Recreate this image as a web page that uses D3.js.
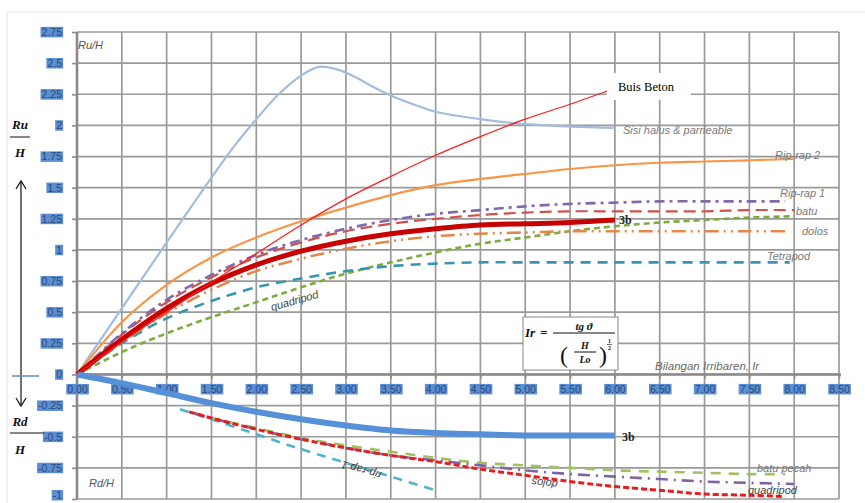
<!DOCTYPE html>
<html>
<head>
<meta charset="utf-8">
<script src="https://cdn.jsdelivr.net/npm/d3@7"></script>
<style>
  html, body { margin: 0; padding: 0; background: #fff; }
  svg { display: block; }
</style>
</head>
<body>
<svg id="chart" width="865" height="503"></svg>
<script>
// ---------- data ----------
const xTickValues = [0,0.5,1,1.5,2,2.5,3,3.5,4,4.5,5,5.5,6,6.5,7,7.5,8,8.5];
const xTickLabels = ["0.00","0.50","1.00","1.50","2.00","2.50","3.00","3.50","4.00","4.50","5.00","5.50","6.00","6.50","7.00","7.50","8.00","8.50"];
const yTickValues = [2.75,2.5,2.25,2,1.75,1.5,1.25,1,0.75,0.5,0.25,0,-0.25,-0.5,-0.75,-1];
const yTickLabels = ["2.75","2.5","2.25","2","1.75","1.5","1.25","1","0.75","0.5","0.25","0","-0.25","-0.5","-0.75","-1"];

// run-up (Ru/H) curves
const sisiHalus = [[0,0],[0.5,0.53],[1,1.06],[1.5,1.58],[1.75,1.83],[2,2.05],[2.25,2.25],[2.5,2.4],[2.7,2.47],[2.9,2.45],[3.1,2.39],[3.3,2.31],[3.5,2.24],[3.75,2.17],[4,2.11],[4.5,2.05],[5,2.01],[5.5,1.99],[6,1.98]];
const buisBeton = [[0,0],[0.5,0.26],[1,0.5],[1.5,0.74],[2,0.97],[2.5,1.2],[3,1.41],[3.5,1.59],[4,1.76],[4.5,1.91],[5,2.05],[5.5,2.17],[5.97,2.29]];
const ripRap2 = [[0,0],[0.5,0.42],[1,0.72],[1.5,0.94],[2,1.1],[2.5,1.23],[3,1.34],[3.5,1.44],[4,1.52],[4.5,1.57],[5,1.61],[5.5,1.65],[6,1.68],[6.5,1.70],[7,1.71],[7.5,1.72],[8,1.73]];
const ripRap1 = [[0,0],[0.5,0.33],[1,0.6],[1.5,0.8],[2,0.96],[2.5,1.08],[3,1.17],[3.5,1.24],[4,1.29],[4.5,1.32],[5,1.35],[5.5,1.37],[6,1.38],[6.5,1.39],[7,1.39],[7.5,1.39],[7.9,1.39]];
const batu = [[0,0],[0.5,0.32],[1,0.58],[1.5,0.78],[2,0.94],[2.5,1.06],[3,1.15],[3.5,1.21],[4,1.25],[4.5,1.28],[5,1.3],[5.5,1.31],[6,1.31],[6.5,1.31],[7,1.31],[7.5,1.32],[8,1.32]];
const seri3b = [[0,0],[0.5,0.28],[1,0.53],[1.5,0.73],[2,0.88],[2.5,0.99],[3,1.07],[3.5,1.13],[4,1.17],[4.5,1.2],[5,1.21],[5.5,1.22],[6,1.24]];
const dolos = [[0,0],[0.5,0.26],[1,0.49],[1.5,0.68],[2,0.83],[2.5,0.93],[3,1.01],[3.5,1.07],[4,1.11],[4.5,1.13],[5,1.14],[5.5,1.15],[6,1.15],[6.5,1.15],[7,1.15],[7.5,1.15],[7.9,1.15]];
const tetrapod = [[0,0],[0.5,0.25],[1,0.45],[1.5,0.59],[2,0.7],[2.5,0.77],[3,0.83],[3.5,0.87],[4,0.89],[4.5,0.9],[5,0.9],[5.5,0.9],[6,0.9],[6.5,0.9],[7,0.9],[7.5,0.9],[7.95,0.9]];
const quadripod = [[0,0],[0.5,0.18],[1,0.33],[1.5,0.46],[2,0.58],[2.5,0.7],[3,0.81],[3.5,0.9],[4,0.98],[4.5,1.05],[5,1.1],[5.5,1.15],[6,1.19],[6.5,1.22],[7,1.24],[7.5,1.26],[8,1.27]];

// run-down (Rd/H) curves
const down3b = [[0,0],[0.5,-0.07],[1,-0.15],[1.5,-0.23],[2,-0.3],[2.5,-0.36],[3,-0.41],[3.5,-0.45],[4,-0.47],[4.5,-0.48],[5,-0.49],[5.5,-0.49],[6,-0.49]];
const downRipRap1 = [[1.15,-0.28],[1.5,-0.36],[2,-0.48],[2.5,-0.6],[3,-0.71],[3.5,-0.82],[4,-0.93]];
const downDolos = [[1.25,-0.3],[1.5,-0.35],[2,-0.44],[2.5,-0.52],[3,-0.59],[3.5,-0.65],[4,-0.7],[4.5,-0.76],[5,-0.81],[5.5,-0.86],[6,-0.9],[6.5,-0.93],[7,-0.96],[7.5,-0.97],[7.9,-0.98]];
const downBatuPecah = [[1.3,-0.31],[1.5,-0.35],[2,-0.43],[2.5,-0.51],[3,-0.57],[3.5,-0.62],[4,-0.67],[4.5,-0.71],[5,-0.73],[5.5,-0.75],[6,-0.77],[6.5,-0.78],[7,-0.79],[7.5,-0.8],[7.9,-0.8]];
const downQuadripod = [[1.3,-0.31],[1.5,-0.35],[2,-0.44],[2.5,-0.52],[3,-0.59],[3.5,-0.65],[4,-0.69],[4.5,-0.73],[5,-0.77],[5.5,-0.8],[6,-0.82],[6.5,-0.84],[7,-0.86],[7.5,-0.87],[8,-0.88]];

// ---------- drawing ----------
const svg = d3.select("#chart");
const L = 77, R = 839, T = 32, B = 499;
const x = d3.scaleLinear().domain([0, 8.5]).range([L, R]);
const y = d3.scaleLinear().domain([-1, 2.75]).range([B, T]);

// faint outer frame
svg.append("line").attr("x1",7).attr("x2",7).attr("y1",12).attr("y2",503).attr("stroke","#e2e2e2");
svg.append("line").attr("x1",7).attr("x2",865).attr("y1",12).attr("y2",12).attr("stroke","#ececec");

// grid
const grid = svg.append("g");
grid.selectAll(".vg").data(xTickValues).enter().append("line")
  .attr("x1", d => x(d)).attr("x2", d => x(d)).attr("y1", T).attr("y2", B)
  .attr("stroke", "#9a9a9a").attr("stroke-width", 1.7);
grid.selectAll(".hg").data(yTickValues).enter().append("line")
  .attr("x1", L).attr("x2", R).attr("y1", d => y(d)).attr("y2", d => y(d))
  .attr("stroke", "#9a9a9a").attr("stroke-width", 1.7);

// axes (library axes, then styled)
const yAxis = d3.axisLeft(y).tickValues(yTickValues).tickFormat((d,i) => yTickLabels[i]).tickSize(5).tickPadding(10);
const gy = svg.append("g").attr("transform", `translate(${L},0)`).call(yAxis);
const xAxis = d3.axisBottom(x).tickValues(xTickValues).tickFormat((d,i) => xTickLabels[i]).tickSize(4).tickPadding(7);
const gx = svg.append("g").attr("transform", `translate(0,${y(0)})`).call(xAxis);
[gy, gx].forEach(g => {
  g.select(".domain").attr("stroke", "#8a8a8a").attr("stroke-width", 2.6);
  g.selectAll(".tick line").attr("stroke", "#8a8a8a").attr("stroke-width", 1.6);
  g.selectAll(".tick text").attr("fill", "#27497a").attr("font-family", "Liberation Sans, Arial, sans-serif").attr("font-size", 10.5);
});
gy.select(".domain").attr("d", `M0,${T}V${B}`);
gx.select(".domain").attr("d", `M${L},0H${R + 2}`);
// keep the lowest label inside the picture
gy.selectAll(".tick text").filter(d => d === -1).attr("dy", "-0.05em");
// blue highlight boxes behind tick labels
[gy, gx].forEach(g => {
  g.selectAll(".tick").each(function() {
    const t = d3.select(this).select("text");
    const bb = t.node().getBBox();
    d3.select(this).insert("rect", "text")
      .attr("x", bb.x - 1).attr("y", bb.y + 1).attr("width", bb.width + 2).attr("height", bb.height - 1.5)
      .attr("fill", "#5b8ed2");
  });
});

// lines
const line = d3.line().x(d => x(d[0])).y(d => y(d[1])).curve(d3.curveCatmullRom.alpha(0.5));
const plot = svg.append("g");
function draw(data, color, width, dash, op) {
  plot.append("path").datum(data).attr("d", line)
    .attr("fill", "none").attr("stroke", color).attr("stroke-width", width)
    .attr("stroke-dasharray", dash || null).attr("stroke-linecap", "butt")
    .attr("stroke-linejoin", "round").attr("opacity", op || 1);
}
draw(sisiHalus, "#a3bcdd", 2.2);
draw(quadripod, "#7eab3e", 2.6, "6,4");
draw(tetrapod, "#3596ae", 2.6, "10,7");
draw(dolos, "#e2894a", 2.6, "14,5,2,5,2,5");
draw(batu, "#d0504d", 2.2, "12,6");
draw(ripRap1, "#8468ad", 2.6, "10,5,3,5");
draw(ripRap2, "#f79646", 2.2);
draw(seri3b, "#c80000", 5);
draw(buisBeton, "#ff1a1a", 1.2);

draw(down3b, "#5590d8", 6);
draw(downRipRap1, "#4fb3cc", 2.6, "9,7");
draw(downBatuPecah, "#a2c161", 2.6, "10,8");
draw(downQuadripod, "#8064a2", 2.6, "12,6,2,6");
draw(downDolos, "#e81c1c", 3, "6,3");

// text labels inside chart
const lab = svg.append("g").attr("font-family", "Liberation Sans, Arial, sans-serif").attr("font-style", "italic").attr("fill", "#7a7a7a").attr("font-size", 11);
function txt(s, px, py, opts) {
  const t = lab.append("text").attr("x", px).attr("y", py).text(s);
  if (opts) Object.entries(opts).forEach(([k, v]) => t.attr(k, v));
  return t;
}
txt("Ru/H", 78, 49, {fill: "#555"});
txt("Rd/H", 89, 487, {fill: "#555"});
txt("Sisi halus & parrieable", 623, 134);
txt("Rip-rap 2", 775, 159);
txt("Rip-rap 1", 780, 197);
txt("batu", 796, 215);
txt("dolos", 802, 235);
txt("Tetrapod", 767, 260);
txt("Bilangan Irribaren, Ir", 655, 370, {fill: "#6a6a6a", "font-size": 11.5});
txt("quadripod", 0, 0, {transform: "translate(272,311) rotate(-16)", fill: "#444"});
txt("rip-rap 1", 0, 0, {transform: "translate(382,472) rotate(196)", fill: "#444"});
txt("dolos", 0, 0, {transform: "translate(558,481) rotate(186)", fill: "#444"});
txt("batu pecah", 757, 472);
txt("quadripod", 748, 494, {fill: "#444"});

// 3b labels
svg.append("text").attr("x", 619).attr("y", 224).attr("font-family", "Liberation Serif, serif").attr("font-weight", "bold").attr("font-size", 12).attr("fill", "#222").text("3b");
svg.append("text").attr("x", 622).attr("y", 441).attr("font-family", "Liberation Serif, serif").attr("font-weight", "bold").attr("font-size", 12).attr("fill", "#222").text("3b");

// Buis Beton label box
svg.append("rect").attr("x", 607).attr("y", 73).attr("width", 84).attr("height", 27).attr("fill", "#fff");
svg.append("text").attr("x", 618).attr("y", 91).attr("font-family", "Liberation Serif, serif").attr("font-size", 12.5).attr("fill", "#000").text("Buis Beton");

// formula box
const fb = svg.append("g").attr("font-family", "Liberation Serif, serif").attr("font-weight", "bold").attr("font-style", "italic").attr("fill", "#111");
fb.append("rect").attr("x", 523).attr("y", 317).attr("width", 95).attr("height", 53).attr("fill", "#fff").attr("stroke", "#888").attr("stroke-width", 1);
fb.append("text").attr("x", 525).attr("y", 337).attr("font-size", 13).text("Ir");
fb.append("text").attr("x", 540).attr("y", 337).attr("font-size", 13).text("=");
fb.append("line").attr("x1", 553).attr("x2", 615).attr("y1", 333).attr("y2", 333).attr("stroke", "#111").attr("stroke-width", 1.2);
fb.append("text").attr("x", 584).attr("y", 330).attr("font-size", 11).attr("text-anchor", "middle").text("tg ϑ");
fb.append("text").attr("x", 560).attr("y", 363).attr("font-size", 24).attr("font-weight", "normal").attr("font-style", "normal").text("(");
fb.append("text").attr("x", 599).attr("y", 363).attr("font-size", 24).attr("font-weight", "normal").attr("font-style", "normal").text(")");
fb.append("text").attr("x", 585).attr("y", 349).attr("font-size", 10).attr("text-anchor", "middle").text("H");
fb.append("line").attr("x1", 574).attr("x2", 596).attr("y1", 352).attr("y2", 352).attr("stroke", "#111").attr("stroke-width", 1);
fb.append("text").attr("x", 585).attr("y", 363).attr("font-size", 10).attr("text-anchor", "middle").text("Lo");
fb.append("text").attr("x", 608).attr("y", 343).attr("font-size", 6).attr("font-style", "normal").text("1");
fb.append("line").attr("x1", 607).attr("x2", 612).attr("y1", 344.5).attr("y2", 344.5).attr("stroke", "#111").attr("stroke-width", 0.6);
fb.append("text").attr("x", 608).attr("y", 350).attr("font-size", 6).attr("font-style", "normal").text("2");

// left annotations
const ann = svg.append("g").attr("font-family", "Liberation Serif, serif").attr("font-weight", "bold").attr("font-style", "italic").attr("fill", "#111").attr("font-size", 13).attr("text-anchor", "middle");
ann.append("text").attr("x", 20).attr("y", 129).text("Ru");
ann.append("line").attr("x1", 10).attr("x2", 30).attr("y1", 137).attr("y2", 137).attr("stroke", "#111").attr("stroke-width", 1);
ann.append("text").attr("x", 20).attr("y", 157).text("H");
ann.append("text").attr("x", 20).attr("y", 426).text("Rd");
ann.append("line").attr("x1", 10).attr("x2", 44).attr("y1", 433).attr("y2", 433).attr("stroke", "#111").attr("stroke-width", 1);
ann.append("text").attr("x", 20).attr("y", 454).text("H");
// arrows
ann.append("line").attr("x1", 21).attr("x2", 21).attr("y1", 182).attr("y2", 252).attr("stroke", "#111").attr("stroke-width", 1.2);
ann.append("path").attr("d", "M16,189 L21,181 L26,189").attr("fill", "none").attr("stroke", "#111").attr("stroke-width", 1.2);
ann.append("line").attr("x1", 21).attr("x2", 21).attr("y1", 252).attr("y2", 405).attr("stroke", "#111").attr("stroke-width", 1.2);
ann.append("path").attr("d", "M16,398 L21,406 L26,398").attr("fill", "none").attr("stroke", "#111").attr("stroke-width", 1.2);
svg.append("line").attr("x1", 12).attr("x2", 39).attr("y1", 376).attr("y2", 376).attr("stroke", "#5b8ed2").attr("stroke-width", 1.5);
</script>
</body>
</html>
